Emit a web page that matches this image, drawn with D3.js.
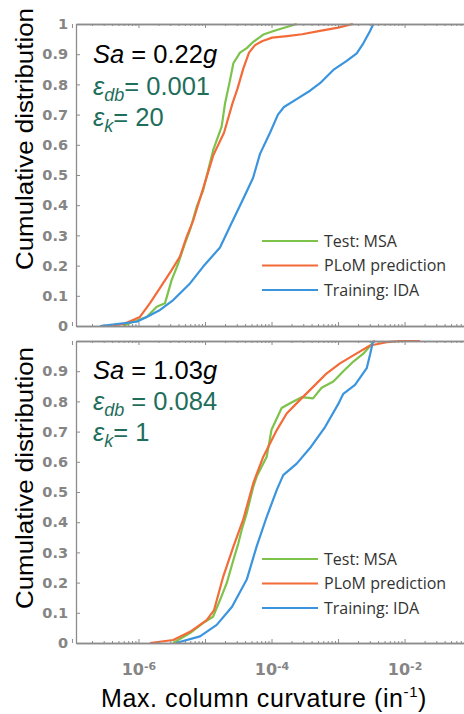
<!DOCTYPE html>
<html>
<head>
<meta charset="utf-8">
<script src="https://cdn.jsdelivr.net/npm/d3@7"></script>
<style>
body { margin: 0; background: #fff; }
</style>
</head>
<body>
<div id="chart-area"></div>
<script>
// Series names + colours (legend order)
var seriesNames = ["Test: MSA", "PLoM prediction", "Training: IDA"];
var seriesColors = ["#7dc24b", "#f26b38", "#3a94de"];

// Axis ticks
var yTicks = [0, 0.1, 0.2, 0.3, 0.4, 0.5, 0.6, 0.7, 0.8, 0.9, 1];
var xMajorTicks = [1e-7, 1e-6, 1e-5, 1e-4, 1e-3, 1e-2, 1e-1];
var xLabelTicks = [1e-6, 1e-4, 1e-2];

// Top panel (Sa = 0.22g) -- curvature (in^-1) vs cumulative probability
var topMsaX = [5.9e-7, 8.3e-7, 1.33e-6, 1.88e-6, 2.5e-6, 3.15e-6, 3.96e-6, 5.0e-6, 5.95e-6, 7.5e-6, 9.4e-6, 1.12e-5, 1.33e-5, 1.78e-5, 2.0e-5, 2.38e-5, 2.67e-5, 3.36e-5, 4.24e-5, 5.33e-5, 7.53e-5, 1.2e-4, 2.39e-4];
var topMsaP = [0, 0.014, 0.03, 0.064, 0.075, 0.152, 0.207, 0.274, 0.318, 0.395, 0.45, 0.517, 0.583, 0.66, 0.737, 0.815, 0.87, 0.905, 0.92, 0.941, 0.965, 0.98, 1];
var topPlomX = [3.73e-7, 6.26e-7, 1.05e-6, 1.49e-6, 2.11e-6, 3.15e-6, 4.2e-6, 5.31e-6, 6.67e-6, 8.91e-6, 1.06e-5, 1.33e-5, 1.93e-5, 2.59e-5, 3.08e-5, 3.77e-5, 4.59e-5, 5.65e-5, 7.19e-5, 1.02e-4, 1.71e-4, 2.88e-4, 5.36e-4, 1.0e-3, 1.67e-3];
var topPlomP = [0, 0.008, 0.03, 0.076, 0.126, 0.185, 0.23, 0.296, 0.35, 0.44, 0.494, 0.565, 0.64, 0.737, 0.786, 0.853, 0.905, 0.93, 0.943, 0.955, 0.96, 0.966, 0.977, 0.988, 1];
var topIdaX = [2.64e-7, 5.91e-7, 9.39e-7, 1.33e-6, 2.11e-6, 3.33e-6, 5.95e-6, 9.33e-6, 1.68e-5, 2.38e-5, 3.73e-5, 5.27e-5, 6.71e-5, 9.49e-5, 1.25e-4, 1.54e-4, 2.42e-4, 3.79e-4, 5.36e-4, 8.5e-4, 1.35e-3, 1.91e-3, 2.4e-3, 3.03e-3, 3.4e-3];
var topIdaP = [0, 0.009, 0.014, 0.03, 0.053, 0.086, 0.141, 0.196, 0.26, 0.33, 0.42, 0.49, 0.57, 0.64, 0.7, 0.725, 0.752, 0.779, 0.804, 0.848, 0.878, 0.903, 0.936, 0.977, 1];

// Bottom panel (Sa = 1.03g)
var botMsaX = [3.31e-6, 5.95e-6, 9.33e-6, 1.32e-5, 1.68e-5, 2.12e-5, 2.67e-5, 3.17e-5, 3.56e-5, 4.24e-5, 5.33e-5, 5.98e-5, 8.47e-5, 1.0e-4, 1.42e-4, 1.9e-4, 2.84e-4, 4.21e-4, 5.66e-4, 8.5e-4, 1.2e-3, 1.7e-3, 2.4e-3, 3.21e-3, 3.4e-3];
var botMsaP = [0, 0.033, 0.066, 0.087, 0.142, 0.198, 0.275, 0.33, 0.374, 0.43, 0.518, 0.551, 0.617, 0.706, 0.778, 0.794, 0.814, 0.81, 0.845, 0.866, 0.9, 0.932, 0.958, 0.99, 1];
var botPlomX = [1.49e-6, 3.33e-6, 5.95e-6, 1.06e-5, 1.37e-5, 1.88e-5, 2.67e-5, 3.77e-5, 5.33e-5, 7.53e-5, 1.2e-4, 1.69e-4, 2.68e-4, 4.26e-4, 6.76e-4, 1.07e-3, 1.91e-3, 3.03e-3, 5.4e-3, 8.55e-3, 1.71e-2];
var botPlomP = [0, 0.01, 0.037, 0.076, 0.109, 0.22, 0.319, 0.41, 0.53, 0.617, 0.705, 0.76, 0.805, 0.849, 0.893, 0.926, 0.959, 0.985, 0.996, 1, 1];
var botIdaX = [3.66e-6, 8.41e-6, 1.5e-5, 2.55e-5, 4.24e-5, 5.98e-5, 8.47e-5, 1.2e-4, 1.5e-4, 2.39e-4, 3.93e-4, 6.38e-4, 1.0e-3, 1.2e-3, 1.8e-3, 2.7e-3, 3.03e-3, 3.33e-3, 3.6e-3];
var botIdaP = [0, 0.022, 0.06, 0.12, 0.21, 0.32, 0.418, 0.507, 0.556, 0.594, 0.65, 0.715, 0.79, 0.825, 0.855, 0.91, 0.955, 0.996, 1];

var width = 464, height = 714;

var svg = d3.select("#chart-area").append("svg")
    .attr("width", width)
    .attr("height", height)
    .style("font-family", "'Liberation Sans', Arial, sans-serif");

// log x scale shared by both panels
var x = d3.scaleLog().domain([1.15e-7, 1]).range([76, 537.6]);

var xMinorTicks = [];
xMajorTicks.forEach(function(d) {
    for (var m = 2; m <= 9; m++) xMinorTicks.push(d * m);
});

var axisColor = "#8c8c8c";

function zip(xs, ps) {
    return xs.map(function(v, i) { return { x: v, p: ps[i] }; });
}

function styleAxis(sel) {
    sel.select(".domain").attr("stroke", axisColor).attr("stroke-width", 1.3);
    sel.selectAll(".tick line").attr("stroke", axisColor);
}

function drawPanel(top, bottom, series, notes, opts) {
    var y = d3.scaleLinear().domain([0, 1]).range([bottom, top]);
    var g = svg.append("g");

    // curves
    var line = d3.line()
        .x(function(d) { return x(d.x); })
        .y(function(d) { return y(d.p); });
    series.forEach(function(s, i) {
        g.append("path")
            .attr("fill", "none")
            .attr("stroke", seriesColors[i])
            .attr("stroke-width", 2.2)
            .attr("stroke-linejoin", "round")
            .attr("d", line(s));
    });

    // bottom axis: majors, minors
    var xb = g.append("g").attr("transform", "translate(0," + bottom + ")")
        .call(d3.axisBottom(x).tickValues(xMajorTicks).tickSize(-4).tickSizeOuter(0)
            .tickPadding(21).tickFormat(function(d) {
                return (opts.xLabels && xLabelTicks.indexOf(d) >= 0) ? String(Math.round(Math.log10(d))) : "";
            }));
    styleAxis(xb);
    xb.selectAll(".tick text").each(function() {
        var t = d3.select(this), e = t.text();
        if (!e) return;
        t.text(null)
            .attr("fill", "#858585")
            .attr("font-family", "'DejaVu Sans', Verdana, sans-serif")
            .attr("font-weight", "bold")
            .attr("font-size", "16px");
        t.append("tspan").text("10");
        t.append("tspan").attr("dy", "-0.5em").attr("font-size", "11px").text(e);
    });
    var xbm = g.append("g").attr("transform", "translate(0," + bottom + ")")
        .call(d3.axisBottom(x).tickValues(xMinorTicks).tickSize(-2).tickSizeOuter(0).tickFormat(""));
    styleAxis(xbm);

    // top border with ticks
    var xt = g.append("g").attr("transform", "translate(0," + top + ")")
        .call(d3.axisTop(x).tickValues(xMajorTicks).tickSize(-4).tickSizeOuter(0).tickFormat(""));
    styleAxis(xt);
    var xtm = g.append("g").attr("transform", "translate(0," + top + ")")
        .call(d3.axisTop(x).tickValues(xMinorTicks).tickSize(-2).tickSizeOuter(0).tickFormat(""));
    styleAxis(xtm);

    // y axis
    var ya = g.append("g").attr("transform", "translate(" + x.range()[0] + ",0)")
        .call(d3.axisLeft(y).tickValues(yTicks).tickSize(-4).tickSizeOuter(0).tickPadding(8)
            .tickFormat(function(d) {
                if (d === 1 && !opts.showOne) return "";
                return d3.format("")(d);
            }));
    styleAxis(ya);
    ya.selectAll(".tick text")
        .attr("fill", "#858585")
        .attr("font-family", "'DejaVu Sans', Verdana, sans-serif")
        .attr("font-weight", "bold")
        .attr("font-size", "14.5px");

    // y label
    g.append("text")
        .attr("transform", "translate(33," + opts.labelY + ") rotate(-90)")
        .attr("text-anchor", "middle")
        .attr("font-size", "23px")
        .attr("fill", "#000")
        .attr("textLength", 262)
        .attr("lengthAdjust", "spacingAndGlyphs")
        .text("Cumulative distribution");

    // annotation: Sa, eps_db, eps_k
    var sa = g.append("text").attr("x", 93).attr("y", notes.y[0])
        .attr("font-size", "25.5px").attr("fill", "#000");
    sa.append("tspan").attr("font-style", "italic").text("Sa");
    sa.append("tspan").text(" = " + notes.sa);
    sa.append("tspan").attr("font-style", "italic").text("g");

    var green = "#1f6e5c";
    var edb = g.append("text").attr("x", 93).attr("y", notes.y[1])
        .attr("font-size", "25.5px").attr("fill", green);
    edb.append("tspan").attr("font-style", "italic").text("\u03b5");
    edb.append("tspan").attr("font-style", "italic").attr("font-size", "18px").attr("dy", 6).text("db");
    edb.append("tspan").attr("dy", -6).text(notes.dbGap + "= " + notes.db);

    var ek = g.append("text").attr("x", 93).attr("y", notes.y[2])
        .attr("font-size", "25.5px").attr("fill", green);
    ek.append("tspan").attr("font-style", "italic").text("\u03b5");
    ek.append("tspan").attr("font-style", "italic").attr("font-size", "18px").attr("dy", 6).text("k");
    ek.append("tspan").attr("dy", -6).text("= " + notes.k);

    // legend
    var lg = g.append("g");
    seriesNames.forEach(function(name, i) {
        var ly = opts.legendY + i * 24.5;
        lg.append("line")
            .attr("x1", 262).attr("x2", 318)
            .attr("y1", ly).attr("y2", ly)
            .attr("stroke", seriesColors[i])
            .attr("stroke-width", 2.2);
        lg.append("text")
            .attr("x", 324).attr("y", ly + 5.5)
            .attr("font-family", "'Open Sans', sans-serif")
            .attr("font-size", "16px")
            .attr("fill", "#333")
            .text(name);
    });
}

drawPanel(24, 326,
    [zip(topMsaX, topMsaP), zip(topPlomX, topPlomP), zip(topIdaX, topIdaP)],
    { sa: "0.22", db: "0.001", dbGap: "", k: "20", y: [63, 95, 126] },
    { xLabels: false, showOne: true, labelY: 139, legendY: 241 });

drawPanel(341, 643,
    [zip(botMsaX, botMsaP), zip(botPlomX, botPlomP), zip(botIdaX, botIdaP)],
    { sa: "1.03", db: "0.084", dbGap: " ", k: "1", y: [379, 410, 441] },
    { xLabels: true, showOne: false, labelY: 478, legendY: 559 });

// x label
var xl = svg.append("text")
    .attr("x", 264).attr("y", 707)
    .attr("text-anchor", "middle")
    .attr("font-size", "25px")
    .attr("letter-spacing", "0.6px")
    .attr("fill", "#000");
xl.append("tspan").text("Max. column curvature (in");
xl.append("tspan").attr("dy", -10).attr("font-size", "15px").text("-1");
xl.append("tspan").attr("dy", 10).text(")");
</script>
</body>
</html>
